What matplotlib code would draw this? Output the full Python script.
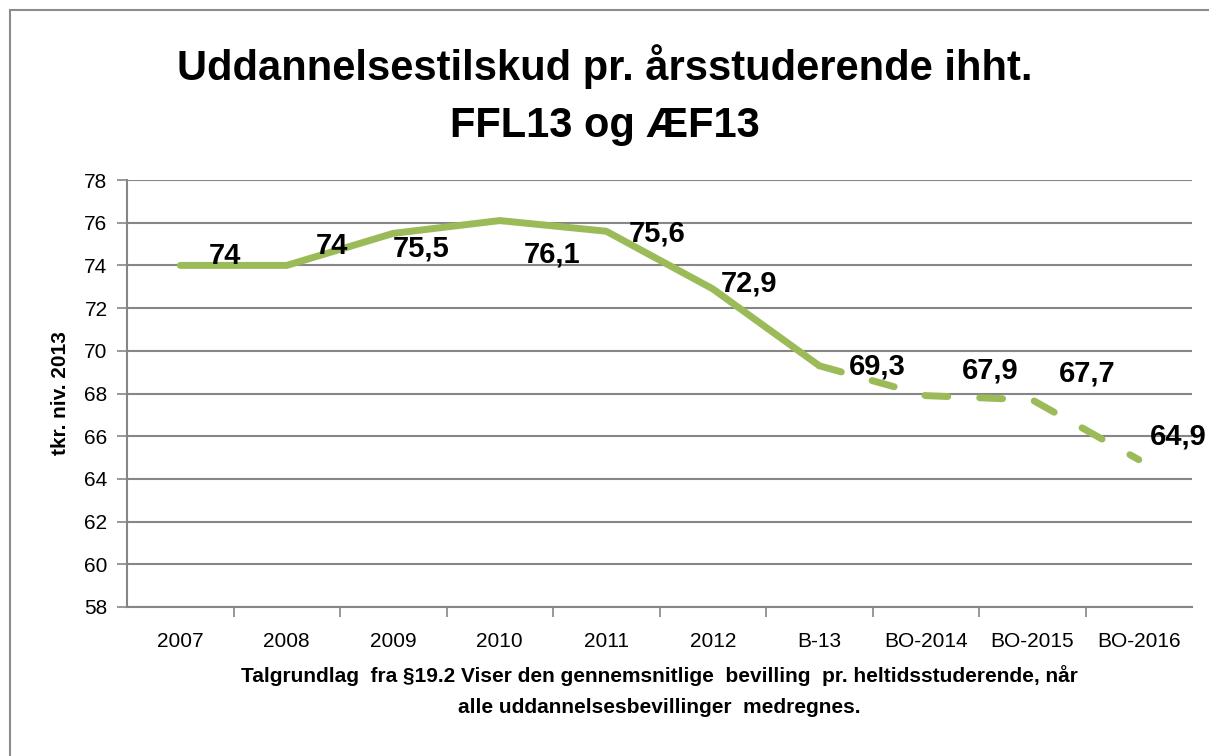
import matplotlib
matplotlib.use('Agg')
import matplotlib.pyplot as plt
from matplotlib import font_manager
from matplotlib.patches import Rectangle

# --- DATA ---
categories = ['2007', '2008', '2009', '2010', '2011', '2012', 'B-13', 'BO-2014', 'BO-2015', 'BO-2016']
values = [74.0, 74.0, 75.5, 76.1, 75.6, 72.9, 69.3, 67.9, 67.7, 64.9]
labels = ['74', '74', '75,5', '76,1', '75,6', '72,9', '69,3', '67,9', '67,7', '64,9']
solid_until = 6  # B-13 is the last actual point, after that budget projections (dashed)

title = 'Uddannelsestilskud pr. årsstuderende ihht.\nFFL13 og ÆF13'
ylabel = 'tkr. niv. 2013'
xlabel = ('Talgrundlag  fra §19.2 Viser den gennemsnitlige  bevilling  pr. heltidsstuderende, når\n'
          'alle uddannelsesbevillinger  medregnes.')

# --- STYLE ---
names = set(f.name for f in font_manager.fontManager.ttflist)
fam = [n for n in ['Liberation Sans Narrow', 'Liberation Sans'] if n in names] + ['DejaVu Sans']
plt.rcParams['font.family'] = fam

green = '#9BBB59'
grid_col = '#868686'
# label offsets in px (right, down) relative to each point
lab_dx = [45, 45, 28, 52, 51, 36, 58, 64, 55, 40]
lab_dy = [-9, -19, 15, 34, 2, -5, 1, -25, -26, -23]

fig = plt.figure(figsize=(12.09, 7.56), dpi=100)
ax = fig.add_axes([127/1209, 1-607/756, (1192-127)/1209, (607-180)/756])

x = list(range(len(categories)))
ax.plot(x[:solid_until+1], values[:solid_until+1], color=green, lw=5,
        solid_capstyle='round', solid_joinstyle='round', zorder=3)
ax.plot(x[solid_until:], values[solid_until:], color=green, lw=5,
        dashes=(3.3, 4.6), dash_capstyle='round', dash_joinstyle='round', zorder=3)

for i, (v, t) in enumerate(zip(values, labels)):
    ax.annotate(t, (i, v), xytext=(lab_dx[i]/1.389, -lab_dy[i]/1.389), textcoords='offset points',
                ha='center', va='center', fontsize=21, fontweight='bold', annotation_clip=False, zorder=4)

ax.set_xlim(-0.5, len(categories)-0.5)
ax.set_ylim(58, 78)
ax.set_yticks(range(58, 79, 2))
ax.set_xticks(x)
ax.set_xticklabels(categories)
ax.set_xticks([i+0.5 for i in range(len(categories)-1)], minor=True)
ax.tick_params(axis='x', which='major', length=0, pad=18, labelsize=15)
ax.tick_params(axis='x', which='minor', length=7, color=grid_col, width=1.2)
ax.tick_params(axis='y', length=7, color=grid_col, width=1.2, labelsize=15, pad=7)
ax.yaxis.grid(True, color=grid_col, lw=1.5)
ax.set_axisbelow(True)
for s in ['top', 'right']:
    ax.spines[s].set_visible(False)
for s in ['left', 'bottom']:
    ax.spines[s].set_color(grid_col)
    ax.spines[s].set_linewidth(1.5)

ax.set_ylabel(ylabel, fontsize=15, fontweight='bold', labelpad=10)
ax.set_xlabel(xlabel, fontsize=15, fontweight='bold', labelpad=10, linespacing=1.8)

fig.text(0.5, 1-95/756, title, ha='center', va='center', fontsize=30, fontweight='bold',
         linespacing=1.55)

# chart border
fig.patches.append(Rectangle((10/1209, -0.1), 1.2, 1-10/756+0.1, transform=fig.transFigure,
                             fill=False, edgecolor='#8c8c8c', lw=1.5))

fig.savefig('out.png', dpi=100)
